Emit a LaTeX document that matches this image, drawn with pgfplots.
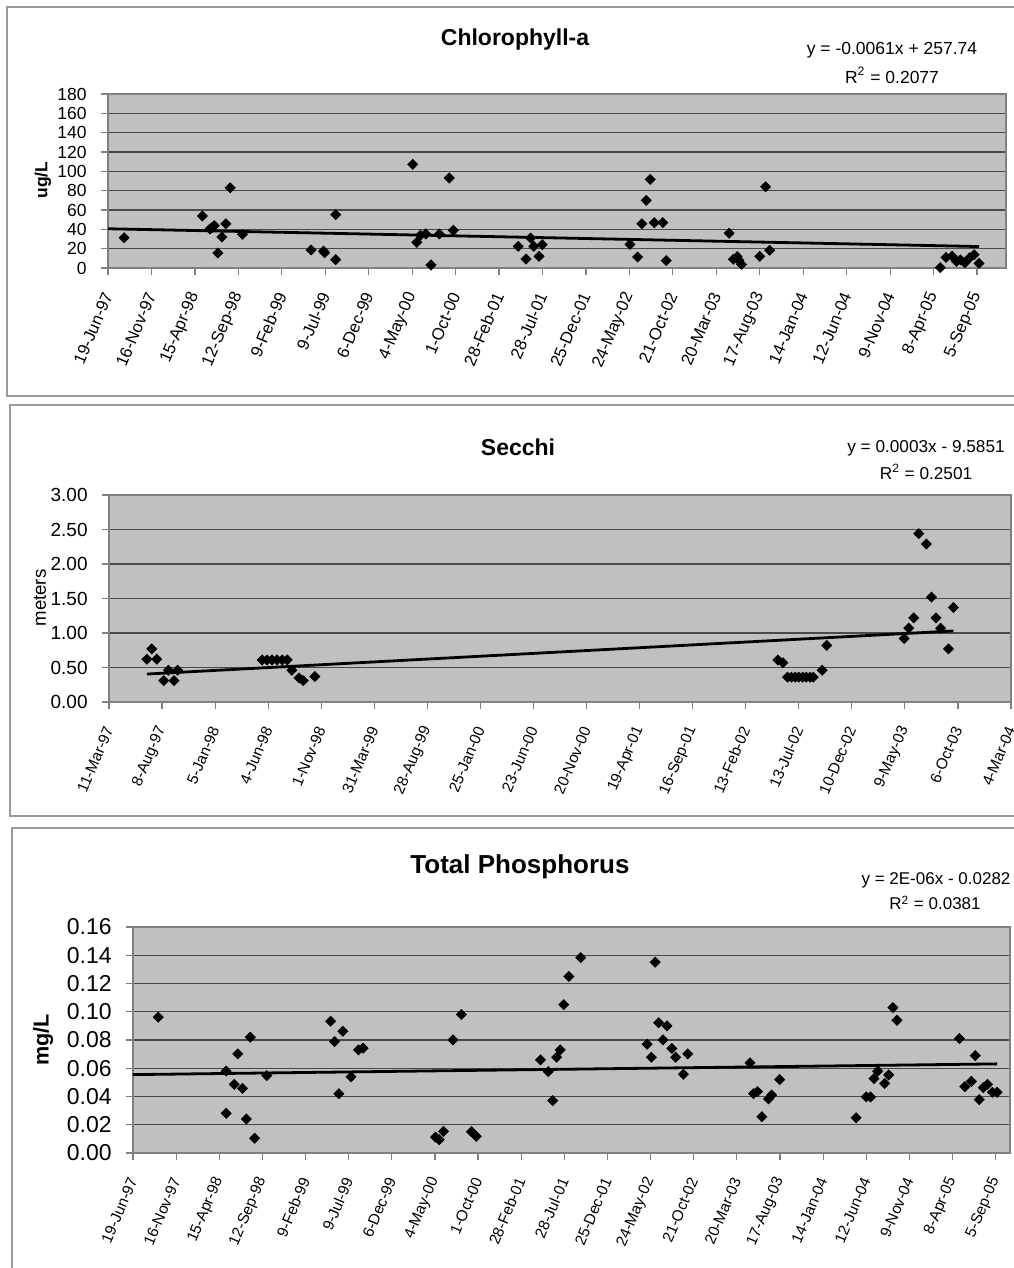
\documentclass[border=0pt]{standalone}
\usepackage{fontspec}
\setmainfont{Liberation Sans}
\usepackage{pgfplots}
\pgfplotsset{compat=1.18}

\definecolor{plotgray}{HTML}{C0C0C0}
\definecolor{framegray}{HTML}{808080}
\definecolor{gridgray}{HTML}{4A4A4A}
\definecolor{boxgray}{HTML}{9A9A9A}

\pgfplotsset{
  excel/.style={
    scale only axis,
    anchor=south west,
    scaled x ticks=false,
    scaled y ticks=false,
    axis background/.style={fill=plotgray},
    axis line style={framegray, line width=0.6pt},
    tick pos=left,
    tick align=outside,
    major tick length=3.5pt,
    tick style={framegray, line width=0.6pt},
    ymajorgrids,
    major grid style={gridgray, line width=0.55pt},
    clip=false,
    xticklabel style={yshift=-9pt, rotate=67, anchor=east, inner sep=0pt},
    yticklabel style={anchor=east, inner sep=0pt, xshift=-7pt},
  },
  pts/.style={only marks, mark=square*, mark size=1.75pt,
    mark options={rotate=45, fill=black, draw=black}},
  trend/.style={black, line width=1.4pt, no marks},
}

\begin{document}
\begin{tikzpicture}
\useasboundingbox (0,0) rectangle (506.5pt,-634pt);
\fill[white] (0,0) rectangle (506.5pt,-634pt);
% panel frames
\draw[boxgray, line width=0.8pt] (3.5pt,-3.5pt) rectangle (515pt,-198pt);
\draw[boxgray, line width=0.8pt] (5pt,-202.5pt) rectangle (515pt,-408pt);
\draw[boxgray, line width=0.8pt] (6pt,-414pt) rectangle (515pt,-645pt);

% ---------------- Chlorophyll-a ----------------
\begin{axis}[excel,
  at={(54pt,-134pt)}, width=449pt, height=87pt,
  xmin=35600, xmax=38700, ymin=0, ymax=180,
  xtick={35600,35750,35900,36050,36200,36350,36500,36650,36800,36950,37100,37250,37400,37550,37700,37850,38000,38150,38300,38450,38600},
  xticklabels={19-Jun-97,16-Nov-97,15-Apr-98,12-Sep-98,9-Feb-99,9-Jul-99,6-Dec-99,4-May-00,1-Oct-00,28-Feb-01,28-Jul-01,25-Dec-01,24-May-02,21-Oct-02,20-Mar-03,17-Aug-03,14-Jan-04,12-Jun-04,9-Nov-04,8-Apr-05,5-Sep-05},
  ytick={0,20,40,60,80,100,120,140,160,180},
  yticklabels={0,20,40,60,80,100,120,140,160,180},
  xticklabel style={font=\fontsize{8.4}{9}\selectfont},
  yticklabel style={font=\fontsize{8.75}{10}\selectfont},
]
\addplot[pts] coordinates {
  (35656,31.3) (35926,53.8) (35952,40.3) (35960,42) (35967,43.8)
  (35979,15.5) (35993,32) (36007,45.8) (36022,83) (36064,34.8)
  (36301,18.6) (36344,17.5) (36348,15.8) (36386,55.2) (36386,8.6)
  (36652,107.3) (36666,26.6) (36679,34) (36697,35.2) (36715,3.1)
  (36744,35.2) (36778,93.1) (36792,39)
  (37016,22.4) (37043,9.3) (37059,31) (37070,22.4) (37088,12.1) (37099,24.1)
  (37402,24.5) (37428,11.4) (37443,45.8) (37458,70) (37472,91.7)
  (37486,46.9) (37515,46.9) (37527,7.6)
  (37744,35.9) (37759,9) (37772,11.7) (37778,8) (37787,3.8)
  (37850,12.1) (37870,84.1) (37884,18.3)
  (38473,0.5) (38493,11) (38514,12.1) (38529,6.9) (38543,8.3)
  (38558,5.5) (38575,10.7) (38590,13.8) (38607,4.8)
};
\addplot[trend] coordinates {(35600,40.6) (38607,22.2)};
\end{axis}
\node[font=\bfseries\fontsize{11.5}{13}\selectfont] at (257.5pt,-20pt) {Chlorophyll-a};
\node[font=\fontsize{8.75}{10}\selectfont] at (446pt,-25pt) {y = -0.0061x + 257.74};
\node[font=\fontsize{8.75}{10}\selectfont] at (446pt,-37.5pt) {R\textsuperscript{2} = 0.2077};
\node[font=\bfseries\fontsize{8.75}{10}\selectfont, rotate=90] at (21.5pt,-90pt) {ug/L};

% ---------------- Secchi ----------------
\begin{axis}[excel,
  at={(54.5pt,-351pt)}, width=451pt, height=103.5pt,
  xmin=35500, xmax=38050, ymin=0, ymax=3,
  xtick={35500,35650,35800,35950,36100,36250,36400,36550,36700,36850,37000,37150,37300,37450,37600,37750,37900,38050},
  xticklabels={11-Mar-97,8-Aug-97,5-Jan-98,4-Jun-98,1-Nov-98,31-Mar-99,28-Aug-99,25-Jan-00,23-Jun-00,20-Nov-00,19-Apr-01,16-Sep-01,13-Feb-02,13-Jul-02,10-Dec-02,9-May-03,6-Oct-03,4-Mar-04},
  ytick={0,0.5,1,1.5,2,2.5,3},
  yticklabels={0.00,0.50,1.00,1.50,2.00,2.50,3.00},
  xticklabel style={font=\fontsize{7.7}{9}\selectfont},
  yticklabel style={font=\fontsize{9.5}{11}\selectfont},
]
\addplot[pts] coordinates {
  (35607,0.62) (35621,0.77) (35635,0.62) (35655,0.31) (35668,0.46)
  (35684,0.31) (35694,0.46)
  (35933,0.61) (35947,0.61) (35961,0.61) (35975,0.61) (35990,0.61) (36004,0.61)
  (36017,0.46) (36037,0.35) (36049,0.31) (36082,0.37)
  (37391,0.61) (37405,0.57)
  (37418,0.36) (37429,0.36) (37440,0.36) (37450,0.36) (37461,0.36)
  (37471,0.36) (37482,0.36) (37491,0.36)
  (37516,0.46) (37529,0.82)
  (37748,0.92) (37761,1.07) (37775,1.22) (37789,2.44) (37811,2.29)
  (37825,1.52) (37838,1.22) (37851,1.07) (37873,0.77) (37887,1.37)
};
\addplot[trend] coordinates {(35607,0.405) (37887,1.03)};
\end{axis}
\node[font=\bfseries\fontsize{11.5}{13}\selectfont] at (259pt,-223.5pt) {Secchi};
\node[font=\fontsize{8.6}{10}\selectfont] at (463pt,-224pt) {y = 0.0003x - 9.5851};
\node[font=\fontsize{8.6}{10}\selectfont] at (463pt,-236pt) {R\textsuperscript{2} = 0.2501};
\node[font=\fontsize{9.3}{11}\selectfont, rotate=90] at (20pt,-299pt) {meters};

% ---------------- Total Phosphorus ----------------
\begin{axis}[excel,
  at={(66.5pt,-576.5pt)}, width=438.5pt, height=113pt,
  xmin=35600, xmax=38650, ymin=0, ymax=0.16,
  xtick={35600,35750,35900,36050,36200,36350,36500,36650,36800,36950,37100,37250,37400,37550,37700,37850,38000,38150,38300,38450,38600},
  xticklabels={19-Jun-97,16-Nov-97,15-Apr-98,12-Sep-98,9-Feb-99,9-Jul-99,6-Dec-99,4-May-00,1-Oct-00,28-Feb-01,28-Jul-01,25-Dec-01,24-May-02,21-Oct-02,20-Mar-03,17-Aug-03,14-Jan-04,12-Jun-04,9-Nov-04,8-Apr-05,5-Sep-05},
  ytick={0,0.02,0.04,0.06,0.08,0.1,0.12,0.14,0.16},
  yticklabels={0.00,0.02,0.04,0.06,0.08,0.10,0.12,0.14,0.16},
  xticklabel style={font=\fontsize{7.7}{9}\selectfont},
  yticklabel style={font=\fontsize{11.5}{13}\selectfont},
]
\addplot[pts] coordinates {
  (35688,0.0962) (35924,0.0581) (35924,0.0281) (35952,0.0486) (35964,0.0702)
  (35981,0.0458) (35994,0.0241) (36008,0.082) (36023,0.0104) (36065,0.0548)
  (36287,0.0933) (36301,0.0789) (36316,0.042) (36330,0.0862) (36358,0.0539)
  (36384,0.073) (36400,0.0742)
  (36652,0.0113) (36665,0.0094) (36680,0.0153) (36713,0.0801) (36742,0.098)
  (36777,0.0151) (36794,0.0118)
  (37017,0.0659) (37044,0.0576) (37060,0.0371) (37073,0.0678) (37086,0.073)
  (37098,0.105) (37116,0.125) (37157,0.1383)
  (37388,0.077) (37403,0.0678) (37416,0.1351) (37428,0.0922) (37443,0.0801)
  (37457,0.09) (37474,0.074) (37487,0.0678) (37514,0.0557) (37529,0.0702)
  (37746,0.0638) (37758,0.042) (37772,0.0435) (37787,0.0257) (37810,0.0383)
  (37821,0.0411) (37849,0.052)
  (38115,0.025) (38150,0.0397) (38165,0.0397) (38177,0.0527) (38190,0.0579)
  (38214,0.0493) (38228,0.0553) (38243,0.103) (38257,0.094)
  (38474,0.081) (38493,0.047) (38516,0.0508) (38529,0.069) (38543,0.0378)
  (38557,0.0463) (38572,0.0486) (38589,0.043) (38605,0.043)
};
\addplot[trend] coordinates {(35600,0.0555) (38605,0.0631)};
\end{axis}
\node[font=\bfseries\fontsize{13}{15}\selectfont] at (260pt,-433.5pt) {Total Phosphorus};
\node[font=\fontsize{8.5}{10}\selectfont] at (468pt,-440pt) {y = 2E-06x - 0.0282};
\node[font=\fontsize{8.5}{10}\selectfont] at (467.5pt,-451.5pt) {R\textsuperscript{2} = 0.0381};
\node[font=\bfseries\fontsize{10.8}{12}\selectfont, rotate=90] at (21.5pt,-520pt) {mg/L};
\end{tikzpicture}
\end{document}
